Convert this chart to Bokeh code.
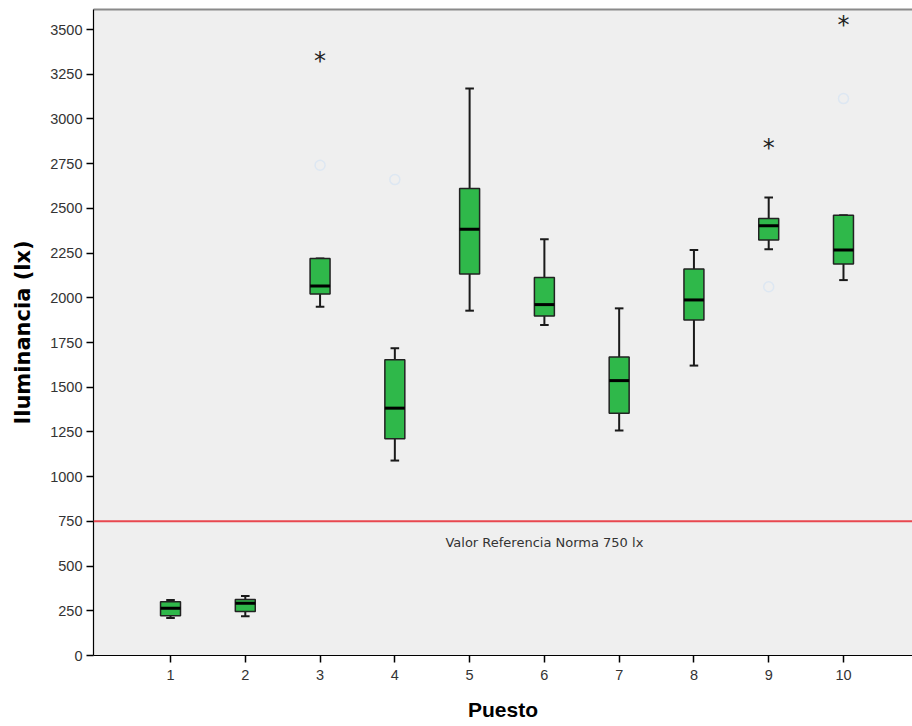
from bokeh.plotting import figure
from bokeh.models import ColumnDataSource, Range1d, Span, FixedTicker, LinearAxis
from bokeh.core.properties import value
from bokeh.embed import file_html
from bokeh.resources import INLINE

# Data
puesto = [1, 2, 3, 4, 5, 6, 7, 8, 9, 10]
whisk_low = [210, 220, 1950, 1090, 1928, 1848, 1258, 1621, 2272, 2099]
q1 = [222, 246, 2021, 1212, 2133, 1898, 1355, 1876, 2323, 2189]
median = [264, 292, 2066, 1383, 2384, 1962, 1537, 1988, 2403, 2267]
q3 = [300, 313, 2220, 1653, 2611, 2114, 1669, 2161, 2444, 2462]
whisk_high = [310, 333, 2220, 1718, 3170, 2328, 1941, 2267, 2561, 2462]

extreme_x = [3, 9, 10]
extreme_y = [3328, 2844, 3533]
outlier_x = [3, 4, 9, 10]
outlier_y = [2741, 2661, 2062, 3114]

ref_value = 750
ref_label = "Valor Referencia Norma 750 lx"
ref_label_x = 6
ref_label_y = 631

y_ticks = list(range(0, 3501, 250))

BOX_W = 0.267
CAP_W = 0.115

src = ColumnDataSource(dict(
    x=puesto, lo=whisk_low, q1=q1, med=median, q3=q3, hi=whisk_high,
    xl=[v - BOX_W / 2 for v in puesto], xr=[v + BOX_W / 2 for v in puesto],
    cl=[v - CAP_W / 2 for v in puesto], cr=[v + CAP_W / 2 for v in puesto],
))

p = figure(width=912, height=723, output_backend="svg", toolbar_location=None,
           x_range=Range1d(-0.03, 10.923), y_range=Range1d(0, 3612),
           min_border_left=93, min_border_right=0, min_border_top=9, min_border_bottom=0)

p.background_fill_color = "#efefef"
p.border_fill_color = "white"
p.outline_line_color = None
p.grid.visible = False

# Whiskers
p.segment(x0="x", y0="lo", x1="x", y1="q1", source=src, line_color="#1a1a1a", line_width=2)
p.segment(x0="x", y0="q3", x1="x", y1="hi", source=src, line_color="#1a1a1a", line_width=2)
p.segment(x0="cl", y0="lo", x1="cr", y1="lo", source=src, line_color="#1a1a1a", line_width=2)
p.segment(x0="cl", y0="hi", x1="cr", y1="hi", source=src, line_color="#1a1a1a", line_width=2)
# Boxes
p.vbar(x="x", width=BOX_W, bottom="q1", top="q3", source=src,
       fill_color="#2fb84a", line_color="#222222", line_width=1.5)
# Medians
p.segment(x0="xl", y0="med", x1="xr", y1="med", source=src, line_color="black", line_width=3)

# Outliers (faint circles) and extremes (stars)
p.scatter(outlier_x, outlier_y, marker="circle", size=10, fill_color=None,
          line_color="#dde7f2", line_width=1.5)
p.text(extreme_x, extreme_y, text=["*"] * len(extreme_x), text_font=value("DejaVu Sans"),
       text_font_size="24px", text_align="center", text_baseline="middle",
       text_color="#222222", y_offset=1)

# Reference line
p.add_layout(Span(location=ref_value, dimension="width", line_color="#e8474f", line_width=2))
p.text([ref_label_x], [ref_label_y], text=[ref_label], text_font=value("DejaVu Sans"),
       text_font_size="13px", text_align="center", text_baseline="middle", text_color="#333333")

# Axes
for ax in (p.xaxis[0], p.yaxis[0]):
    ax.axis_line_color = "black"
    ax.axis_line_width = 1.2
    ax.major_tick_line_color = "black"
    ax.major_tick_line_width = 1.5
    ax.major_tick_in = 0
    ax.major_tick_out = 7
    ax.minor_tick_line_color = None
    ax.major_label_text_font = "Liberation Sans"
    ax.major_label_text_font_size = "14.5px"
    ax.major_label_text_color = "#333333"
    ax.axis_label_text_font_style = "bold"
    ax.axis_label_text_font_size = "21px"
    ax.axis_label_text_color = "black"

p.xaxis[0].axis_label_text_font = "Liberation Sans"
p.yaxis[0].axis_label_text_font = "DejaVu Sans"
p.xaxis[0].ticker = FixedTicker(ticks=puesto)
p.yaxis[0].ticker = FixedTicker(ticks=y_ticks)
p.xaxis[0].axis_label = "Puesto"
p.yaxis[0].axis_label = "Iluminancia (lx)"
p.xaxis[0].major_label_standoff = 7
p.yaxis[0].major_label_standoff = 4
p.xaxis[0].axis_label_standoff = 15
p.yaxis[0].axis_label_standoff = 12

top = LinearAxis(ticker=FixedTicker(ticks=[]), axis_line_color="#8a8a8a", axis_line_width=2,
                 major_tick_line_color=None, minor_tick_line_color=None,
                 major_label_text_font_size="0px")
p.add_layout(top, "above")

open("out.html", "w").write(file_html(p, INLINE))
